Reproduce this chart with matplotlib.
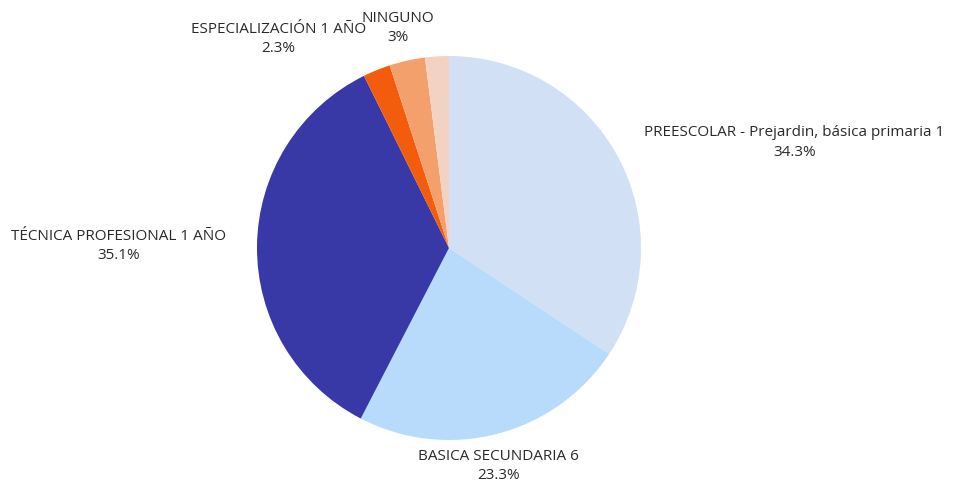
import matplotlib.pyplot as plt

plt.rcParams['font.family'] = ['Open Sans', 'DejaVu Sans']

categories = [
    'PREESCOLAR - Prejardin, básica primaria 1',
    'BASICA SECUNDARIA 6',
    'TÉCNICA PROFESIONAL 1 AÑO',
    'ESPECIALIZACIÓN 1 AÑO',
    'NINGUNO',
    '',
]
shares = [34.3, 23.3, 35.1, 2.3, 3.0, 2.0]
colors = ['#d1e0f5', '#b8dbfb', '#3838a6', '#f25c0c', '#f3a06c', '#f2d3c3']

# label centres, in units of the pie radius
label_pos = [(1.80, 0.55), (0.26, -1.135), (-1.72, 0.01),
             (-0.89, 1.09), (-0.265, 1.145), None]

W, H = 963, 487
cx, cy, r = 449, 248, 192

fig = plt.figure(figsize=(W / 100, H / 100), dpi=100)
ax = fig.add_axes([0, 0, 1, 1])

wedges, _ = ax.pie(shares, colors=colors, startangle=90, counterclock=False,
                   radius=1.0, wedgeprops=dict(linewidth=0))

for name, val, pos in zip(categories, shares, label_pos):
    if pos is None or not name:
        continue
    ax.text(pos[0], pos[1], f'{name}\n{val:g}%', ha='center', va='center',
            fontsize=11, color='#2a2a2a', linespacing=1.4, multialignment='center')

ax.set_xlim(-cx / r, (W - cx) / r)
ax.set_ylim(-(H - cy) / r, cy / r)
ax.set_aspect('equal')
ax.axis('off')

fig.savefig('out.png', dpi=100, facecolor='white')
